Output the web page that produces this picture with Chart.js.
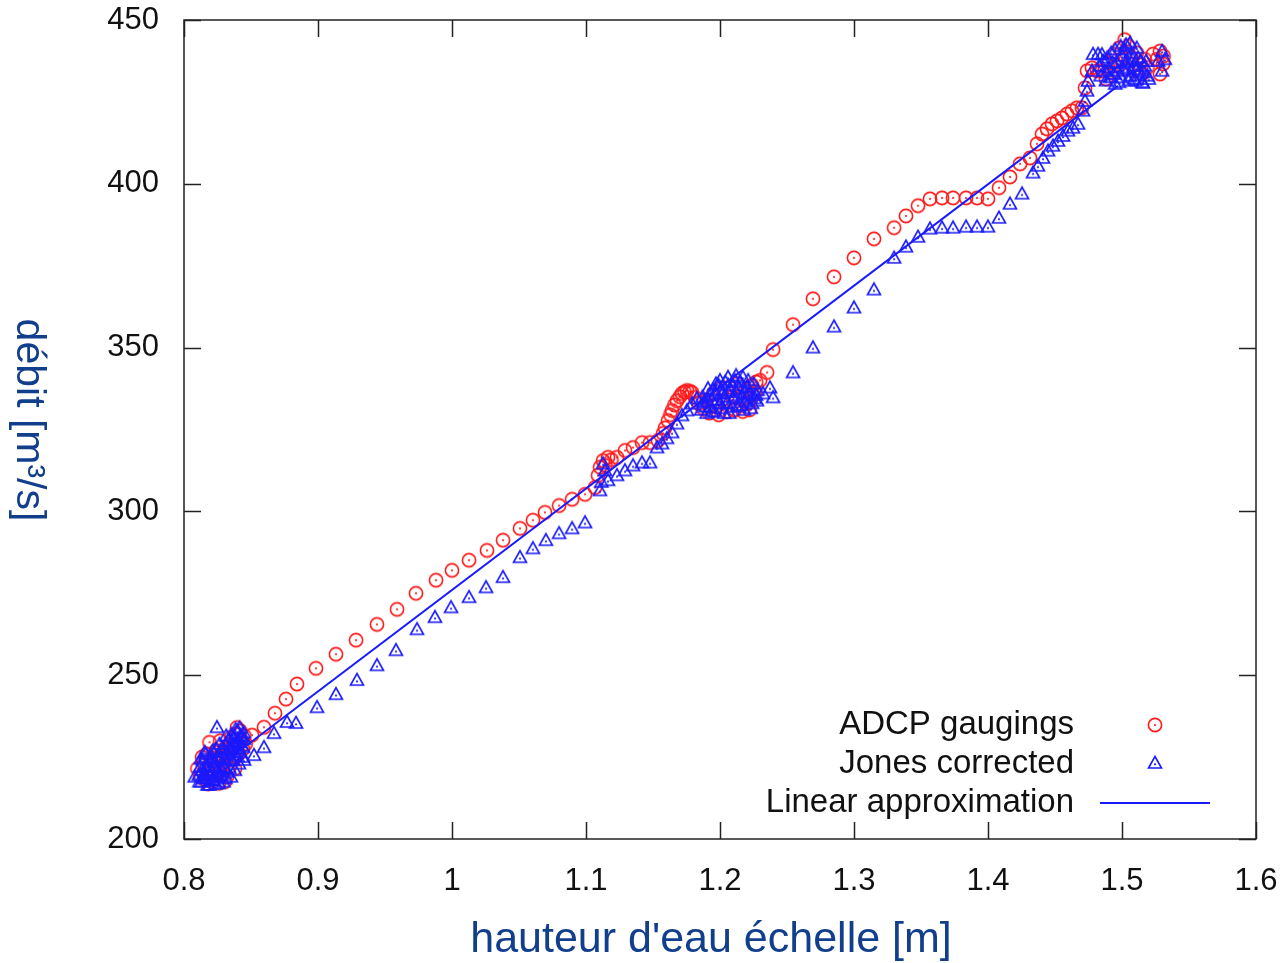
<!DOCTYPE html>
<html>
<head>
<meta charset="utf-8">
<script src="https://cdn.jsdelivr.net/npm/chart.js@4/dist/chart.umd.min.js"></script>
<style>
  body { margin: 0; background: #fff; }
  #wrap { width: 1282px; height: 963px; }
</style>
</head>
<body>
<div id="wrap"><canvas id="chart" width="1282" height="963"></canvas></div>
<script>
// x ticks and y ticks
const xTicks = [0.8, 0.9, 1, 1.1, 1.2, 1.3, 1.4, 1.5, 1.6];
const yTicks = [200, 250, 300, 350, 400, 450];

// ADCP gaugings [hauteur, débit]
const adcpPoints = [
  [0.810,221.5],[0.812,219.0],[0.814,223.5],[0.816,218.0],[0.817,226.0],[0.819,229.5],[0.820,221.0],
  [0.821,217.5],[0.822,224.5],[0.823,219.5],[0.824,227.0],[0.825,222.0],[0.826,217.0],[0.827,230.0],
  [0.828,225.0],[0.829,220.0],[0.830,223.0],[0.831,228.0],[0.832,219.0],[0.833,226.0],[0.834,222.0],
  [0.835,231.0],[0.836,228.0],[0.837,224.5],[0.838,221.5],[0.839,232.0],[0.840,229.0],[0.841,226.0],
  [0.842,233.0],[0.843,230.0],[0.844,227.5],[0.845,231.5],[0.846,229.0],
  [0.8135,225.0],[0.818,216.8],[0.8265,225.5],[0.8305,217.5],[0.8345,229.0],[0.8395,234.0],
  [0.8507,231.7],[0.8597,234.1],[0.8679,238.4],[0.8761,242.7],[0.8843,247.3],[0.8985,252.1],
  [0.9134,256.4],[0.9284,260.7],[0.944,265.5],[0.959,270.1],[0.9731,275.0],[0.9881,279.0],
  [1.0,282.0],[1.0127,285.1],[1.0261,288.1],[1.0381,291.2],[1.0507,294.8],[1.0604,297.3],
  [1.0694,299.7],[1.0799,301.8],[1.0896,303.7],[1.0993,305.2],[1.1067,307.3],[1.109,311.0],
  [1.1105,313.5],[1.1127,315.5],[1.1145,314.0],[1.1164,316.5],[1.119,315.8],[1.1231,316.5],
  [1.1291,318.6],[1.1351,319.5],[1.1418,321.0],[1.1478,321.0],[1.1537,321.6],[1.1575,323.8],
  [1.159,325.5],[1.1612,327.7],[1.163,329.5],[1.1642,330.8],[1.166,332.5],[1.1679,333.8],
  [1.17,335.0],[1.1716,336.0],[1.1735,336.5],[1.1754,336.9],[1.1775,336.6],[1.1791,336.3],
  [1.1813,334.8],[1.184,333.0],
  [1.187,331.5],[1.190,334.0],[1.192,330.0],[1.195,336.0],[1.197,332.0],[1.199,329.5],[1.201,337.5],
  [1.203,333.5],[1.205,330.5],[1.207,338.0],[1.209,335.0],[1.211,331.0],[1.213,339.0],[1.215,334.5],
  [1.217,330.5],[1.219,337.0],[1.221,333.0],[1.222,331.0],[1.224,338.5],[1.225,335.5],[1.227,339.5],
  [1.2261,336.3],[1.2299,340.0],[1.2351,342.4],[1.2396,349.4],[1.2545,357.0],[1.2694,364.9],
  [1.2851,371.6],[1.3,377.4],[1.3149,383.2],[1.3299,386.6],[1.3388,390.2],[1.3478,393.3],
  [1.3567,395.4],[1.3657,395.7],[1.3739,395.7],[1.3836,395.7],[1.3918,395.7],[1.4,395.4],
  [1.4082,398.8],[1.4164,402.1],[1.4239,406.1],[1.4313,407.9],[1.4366,412.2],[1.4403,415.2],
  [1.444,416.8],[1.4478,418.3],[1.4515,419.2],[1.4552,420.1],[1.459,421.3],[1.4627,422.3],
  [1.4664,423.2],[1.4701,423.2],[1.4724,429.3],[1.4739,434.5],[1.4776,435.4],[1.4813,434.5],
  [1.4851,434.5],
  [1.488,432.0],[1.490,437.0],[1.492,434.0],[1.494,439.5],[1.496,436.0],[1.498,441.5],[1.500,438.0],
  [1.502,444.0],[1.503,435.0],[1.505,442.0],[1.507,438.5],[1.509,434.5],[1.511,440.0],[1.513,436.5],
  [1.515,433.5],[1.517,438.0],[1.519,435.5],[1.5231,439.6],[1.5284,440.5],[1.5306,436.6],
  [1.5284,433.5],[1.526,438.0],[1.531,439.0]
];

// Jones corrected [hauteur, débit]
const jonesPoints = [
  [0.808,219.0],[0.811,219.5],[0.812,222.0],[0.813,217.5],[0.814,224.0],[0.815,220.0],[0.816,226.0],
  [0.817,218.5],[0.818,222.5],[0.819,216.5],[0.820,225.0],[0.821,220.5],[0.822,218.0],[0.823,223.5],
  [0.824,227.5],[0.8246,234.1],[0.825,221.0],[0.826,217.0],[0.827,224.5],[0.828,219.5],[0.829,228.0],
  [0.830,222.0],[0.831,218.5],[0.832,226.0],[0.833,230.0],[0.834,221.5],[0.835,227.0],[0.836,224.0],
  [0.837,231.0],[0.838,228.5],[0.839,225.5],[0.840,233.0],[0.841,229.5],[0.842,226.5],[0.843,231.5],
  [0.844,228.0],[0.845,230.5],
  [0.8115,217.5],[0.8125,224.5],[0.8135,221.0],[0.8145,218.5],[0.8155,226.5],[0.8165,222.0],
  [0.8175,216.5],[0.8185,220.0],[0.8195,224.0],[0.8205,218.0],[0.8215,227.0],[0.8225,222.0],
  [0.8235,216.8],[0.8245,225.0],[0.8255,219.0],[0.8265,229.0],[0.8275,221.5],[0.8285,226.5],
  [0.8295,217.5],[0.8305,224.0],[0.8315,231.5],[0.8325,220.5],[0.8335,227.5],[0.8345,224.5],
  [0.8355,232.0],[0.8365,229.0],[0.8375,226.5],[0.8385,233.5],[0.8395,230.0],[0.8405,227.5],
  [0.8415,234.0],[0.8425,231.0],[0.8435,228.5],[0.8445,232.5],
  [0.835,219.0],[0.838,221.0],[0.841,223.0],[0.844,225.0],
  [0.8448,224.1],[0.8522,225.6],[0.8597,228.0],[0.8672,232.3],[0.8769,235.7],[0.8836,235.4],
  [0.8993,240.2],[0.9134,244.2],[0.9291,248.5],[0.944,253.0],[0.9582,257.6],[0.9739,264.0],
  [0.9873,267.7],[0.9993,270.7],[1.0127,273.8],[1.0254,276.8],[1.0381,279.9],[1.0507,286.0],
  [1.0604,288.7],[1.0701,291.2],[1.0799,293.3],[1.0896,294.8],[1.0993,296.6],[1.1104,306.4],
  [1.1115,309.0],[1.1127,314.6],[1.1142,312.5],[1.1164,309.5],[1.1231,311.0],[1.1291,312.5],
  [1.1351,314.0],[1.1418,314.9],[1.1478,314.9],[1.153,319.5],[1.1567,320.7],[1.1604,322.3],
  [1.1642,324.1],[1.1679,326.8],[1.1716,329.3],[1.1754,330.8],[1.1791,332.9],[1.1828,334.5],
  [1.186,331.0],[1.188,333.5],[1.190,330.0],[1.192,335.5],[1.193,332.0],[1.195,337.0],[1.196,330.5],
  [1.198,334.0],[1.199,338.5],[1.201,331.5],[1.202,336.0],[1.204,339.5],[1.205,333.0],[1.207,330.0],
  [1.208,337.0],[1.210,334.5],[1.211,340.0],[1.213,332.0],[1.214,337.5],[1.216,335.0],[1.217,341.0],
  [1.219,333.5],[1.220,338.0],[1.222,336.0],[1.223,331.5],[1.225,339.0],[1.226,334.5],[1.228,337.0],
  [1.187,335.0],[1.189,332.0],[1.191,337.5],[1.194,334.0],[1.197,336.0],[1.200,333.0],[1.203,335.0],
  [1.206,336.5],[1.209,332.0],[1.212,336.5],[1.215,339.5],[1.218,336.0],[1.221,340.0],[1.224,333.0],
  [1.227,335.5],[1.194,330.5],[1.200,340.0],[1.206,341.0],[1.212,341.5],[1.218,331.0],[1.203,330.0],
  [1.209,338.5],[1.215,332.5],[1.221,335.5],[1.197,339.0],
  [1.2276,333.8],[1.2321,336.0],[1.2373,337.8],[1.2396,334.8],[1.2545,342.4],[1.2694,350.0],
  [1.2851,356.4],[1.3,362.2],[1.3149,367.7],[1.3299,377.4],[1.3388,380.8],[1.3478,383.8],
  [1.3567,386.3],[1.3657,386.6],[1.3739,386.6],[1.3836,386.9],[1.3918,386.9],[1.4,386.9],
  [1.4082,389.6],[1.4164,393.9],[1.4254,397.0],[1.4336,403.4],[1.4373,405.5],[1.441,407.9],
  [1.4448,410.1],[1.4485,411.6],[1.4522,413.1],[1.456,414.6],[1.4597,416.2],[1.4634,417.1],
  [1.4672,418.3],[1.4709,422.3],[1.4724,425.3],[1.4739,428.4],[1.4746,431.4],[1.4776,434.5],
  [1.4784,439.6],[1.4821,439.6],
  [1.484,433.0],[1.486,437.5],[1.488,431.5],[1.490,435.5],[1.492,440.0],[1.494,433.5],[1.496,437.0],
  [1.498,431.0],[1.500,439.0],[1.501,435.0],[1.503,442.5],[1.504,437.5],[1.506,433.0],[1.507,440.0],
  [1.509,436.0],[1.510,431.5],[1.512,438.5],[1.513,434.5],[1.515,431.0],[1.5157,430.8],[1.517,436.0],
  [1.519,433.0],[1.5299,440.5],[1.5299,434.5],[1.527,437.5],[1.532,438.0],
  [1.483,436.0],[1.485,439.5],[1.487,434.5],[1.489,438.5],[1.491,432.5],[1.493,437.0],[1.495,441.0],
  [1.497,434.5],[1.499,442.0],[1.502,437.0],[1.502,441.0],[1.505,435.5],[1.506,443.0],[1.508,438.0],
  [1.511,435.0],[1.511,441.5],[1.514,437.5],[1.516,434.0],[1.518,437.5],[1.520,432.0],[1.499,432.5],
  [1.505,431.5],[1.495,430.5],[1.509,432.0]
];

// Linear approximation
const linearX = [0.842, 1.497];
const linearY = [227.1, 429.9];

const xTitle = "hauteur d'eau échelle [m]";
const yTitle = "débit [m³/s]";

const RED = "#ff1a1a";
const BLUE = "#1a1aff";
const TITLE_BLUE = "#123f8c";
const FONT = "'Liberation Sans', Arial, sans-serif";

function circleDot() {
    const c = document.createElement("canvas");
    c.width = 18; c.height = 18;
    const g = c.getContext("2d");
    g.strokeStyle = RED; g.lineWidth = 1.6;
    g.beginPath(); g.arc(9, 9, 6.6, 0, Math.PI * 2); g.stroke();
    g.fillStyle = RED;
    g.beginPath(); g.arc(9, 9, 1.1, 0, Math.PI * 2); g.fill();
    return c;
}

function triangleDot() {
    const c = document.createElement("canvas");
    c.width = 18; c.height = 18;
    const g = c.getContext("2d");
    g.strokeStyle = BLUE; g.lineWidth = 1.6;
    g.beginPath(); g.moveTo(9, 2.5); g.lineTo(15.5, 14); g.lineTo(2.5, 14); g.closePath(); g.stroke();
    g.fillStyle = BLUE;
    g.beginPath(); g.arc(9, 10.3, 1.1, 0, Math.PI * 2); g.fill();
    return c;
}

const circleImg = circleDot();
const triangleImg = triangleDot();

const toXY = (pts) => pts.map(p => ({ x: p[0], y: p[1] }));

// frame + inward mirrored ticks + axis titles + legend
const framePlugin = {
    id: "frame",
    afterDatasetsDraw(chart) {
        const { ctx, chartArea: a, scales } = chart;
        const len = 17;
        ctx.save();
        ctx.strokeStyle = "#222";
        ctx.lineWidth = 1.5;
        ctx.beginPath();
        xTicks.forEach(v => {
            const px = Math.round(scales.x.getPixelForValue(v)) + 0.5;
            ctx.moveTo(px, a.bottom); ctx.lineTo(px, a.bottom - len);
            ctx.moveTo(px, a.top); ctx.lineTo(px, a.top + len);
        });
        yTicks.forEach(v => {
            const py = Math.round(scales.y.getPixelForValue(v)) + 0.5;
            ctx.moveTo(a.left, py); ctx.lineTo(a.left + len, py);
            ctx.moveTo(a.right, py); ctx.lineTo(a.right - len, py);
        });
        ctx.stroke();
        ctx.strokeRect(a.left, a.top, a.right - a.left, a.bottom - a.top);

        // axis titles
        ctx.font = "43px " + FONT;
        ctx.fillStyle = TITLE_BLUE;
        ctx.textAlign = "center";
        ctx.textBaseline = "middle";
        ctx.fillText(xTitle, 711, 940);

        ctx.save();
        ctx.translate(28, 420);
        ctx.rotate(Math.PI / 2);
        ctx.font = "41px " + FONT;
        ctx.fillText(yTitle, 0, 0);
        ctx.restore();

        // legend
        const textRight = 1074, sampleX = 1155;
        const rows = [
            { label: chart.data.datasets[0].label, y: 725, kind: "circle" },
            { label: chart.data.datasets[1].label, y: 764, kind: "triangle" },
            { label: chart.data.datasets[2].label, y: 803, kind: "line" }
        ];
        ctx.font = "33px " + FONT;
        ctx.fillStyle = "#111";
        ctx.textAlign = "right";
        ctx.textBaseline = "middle";
        rows.forEach(r => {
            ctx.fillText(r.label, textRight, r.y);
            if (r.kind === "circle") ctx.drawImage(circleImg, sampleX - 9, r.y - 9);
            else if (r.kind === "triangle") ctx.drawImage(triangleImg, sampleX - 9, r.y - 10);
            else {
                ctx.strokeStyle = BLUE; ctx.lineWidth = 2;
                ctx.beginPath(); ctx.moveTo(1100, r.y); ctx.lineTo(1210, r.y); ctx.stroke();
            }
        });
        ctx.restore();
    }
};

const ctx = document.getElementById("chart").getContext("2d");
new Chart(ctx, {
    type: "scatter",
    data: {
        datasets: [
            {
                label: "ADCP gaugings",
                data: toXY(adcpPoints),
                pointStyle: circleImg,
                pointRadius: 7,
                order: 3
            },
            {
                label: "Jones corrected",
                data: toXY(jonesPoints),
                pointStyle: triangleImg,
                pointRadius: 7,
                order: 2
            },
            {
                label: "Linear approximation",
                type: "line",
                data: linearX.map((x, i) => ({ x: x, y: linearY[i] })),
                borderColor: BLUE,
                borderWidth: 2,
                pointRadius: 0,
                fill: false,
                order: 1
            }
        ]
    },
    options: {
        responsive: false,
        animation: false,
        layout: { padding: { top: 20, right: 26, left: 0, bottom: 0 } },
        plugins: {
            legend: { display: false },
            tooltip: { enabled: false }
        },
        scales: {
            x: {
                type: "linear",
                min: 0.8,
                max: 1.6,
                afterFit: (s) => { s.height = 124; s.paddingLeft = 0; s.paddingRight = 0; },
                afterBuildTicks: (s) => { s.ticks = xTicks.map(v => ({ value: v })); },
                grid: { display: false, drawTicks: false },
                border: { display: false },
                ticks: {
                    autoSkip: false,
                    maxRotation: 0,
                    padding: 24,
                    color: "#111",
                    font: { family: FONT, size: 31 },
                    callback: (v) => String(parseFloat(Number(v).toFixed(2)))
                },
                title: { display: false }
            },
            y: {
                type: "linear",
                min: 200,
                max: 450,
                afterFit: (s) => { s.width = 184; s.paddingTop = 0; s.paddingBottom = 0; },
                afterBuildTicks: (s) => { s.ticks = yTicks.map(v => ({ value: v })); },
                grid: { display: false, drawTicks: false },
                border: { display: false },
                ticks: {
                    autoSkip: false,
                    padding: 25,
                    color: "#111",
                    font: { family: FONT, size: 31 }
                },
                title: { display: false }
            }
        }
    },
    plugins: [framePlugin]
});
</script>
</body>
</html>
